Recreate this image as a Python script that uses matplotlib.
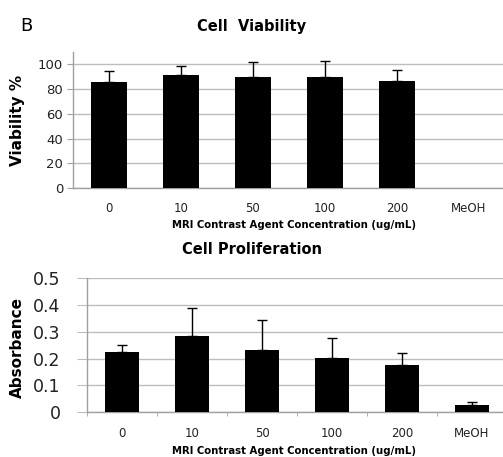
import matplotlib
matplotlib.use("Agg")
import matplotlib.pyplot as plt
import numpy as np

categories = ["0", "10", "50", "100", "200", "MeOH"]
viability = [86, 91.7, 89.5, 90.1, 86.6, 0]
viability_err = [8.6, 7.2, 12.3, 13.0, 8.6, 0]
absorbance = [0.223, 0.285, 0.233, 0.203, 0.175, 0.026]
absorbance_err = [0.026, 0.104, 0.111, 0.075, 0.046, 0.011]
viability_ticks = [0, 20, 40, 60, 80, 100]
absorbance_ticks = [0, 0.1, 0.2, 0.3, 0.4, 0.5]
absorbance_ticklabels = ["0", "0.1", "0.2", "0.3", "0.4", "0.5"]

plt.rcParams['font.family'] = ['DejaVu Sans']
W, H = 503, 457
fig = plt.figure(figsize=(W / 100, H / 100), dpi=100)

grid_c = "#bdbdbd"
spine_c = "#a0a0a0"
txt_c = "#222222"
x = np.arange(len(categories))

def style(ax):
    for s in ["top", "right"]:
        ax.spines[s].set_visible(False)
    for s in ["left", "bottom"]:
        ax.spines[s].set_color(spine_c)
        ax.spines[s].set_linewidth(1.0)
    ax.yaxis.grid(True, color=grid_c, linewidth=1.0)
    ax.set_axisbelow(True)
    ax.set_xlim(-0.5, 5.5)

# Top: Cell Viability
ax1 = fig.add_axes([73 / W, 1 - 188 / H, 432 / W, 136 / H])
style(ax1)
ax1.bar(x, viability, width=0.49, color="black", linewidth=0, zorder=3)
ax1.errorbar(x[:5], viability[:5], yerr=[np.zeros(5), viability_err[:5]],
             fmt="none", ecolor="black", elinewidth=1.0, capsize=3.5,
             capthick=1.0, zorder=4)
ax1.set_ylim(0, 110)
ax1.set_yticks(viability_ticks)
ax1.set_yticklabels([str(v) for v in viability_ticks], fontsize=9.5, color=txt_c)
ax1.tick_params(axis="y", length=4, color=spine_c, pad=3)
ax1.set_xticks(x)
ax1.set_xticklabels(categories, fontsize=8.5, color=txt_c)
ax1.tick_params(axis="x", length=0, pad=10)

# Bottom: Cell Proliferation
ax2 = fig.add_axes([87 / W, 1 - 412 / H, 420 / W, 133.7 / H])
style(ax2)
ax2.bar(x, absorbance, width=0.49, color="black", linewidth=0, zorder=3)
ax2.errorbar(x, absorbance, yerr=[np.zeros(6), absorbance_err],
             fmt="none", ecolor="black", elinewidth=1.0, capsize=3.5,
             capthick=1.0, zorder=4)
ax2.set_ylim(0, 0.5)
ax2.set_yticks(absorbance_ticks)
ax2.set_yticklabels(absorbance_ticklabels, fontsize=12.5, color=txt_c)
ax2.tick_params(axis="y", length=7, color=grid_c, pad=12)
ax2.set_xticks(x)
ax2.set_xticklabels(categories, fontsize=8.5, color=txt_c)
ax2.tick_params(axis="x", which="major", length=0, pad=11)
ax2.set_xticks(np.arange(-0.5, 6.0, 1.0), minor=True)
ax2.tick_params(axis="x", which="minor", length=3, color=spine_c)

# Texts
fig.text(20 / W, 1 - 26 / H, "B", fontsize=13, ha="left", va="center")
fig.text(252 / W, 1 - 26 / H, "Cell  Viability", fontsize=10.5,
         fontweight="bold", ha="center", va="center")
fig.text(18 / W, 1 - 120 / H, "Viability %", fontsize=11, fontweight="bold",
         rotation=90, ha="center", va="center")
fig.text(294 / W, 1 - 225 / H, "MRI Contrast Agent Concentration (ug/mL)",
         fontsize=7.3, fontweight="bold", ha="center", va="center")
fig.text(252 / W, 1 - 249 / H, "Cell Proliferation", fontsize=10.5,
         fontweight="bold", ha="center", va="center")
fig.text(17 / W, 1 - 347 / H, "Absorbance", fontsize=11, fontweight="bold",
         rotation=90, ha="center", va="center")
fig.text(294 / W, 1 - 451 / H, "MRI Contrast Agent Concentration (ug/mL)",
         fontsize=7.3, fontweight="bold", ha="center", va="center")

fig.savefig("out.png", dpi=100)
